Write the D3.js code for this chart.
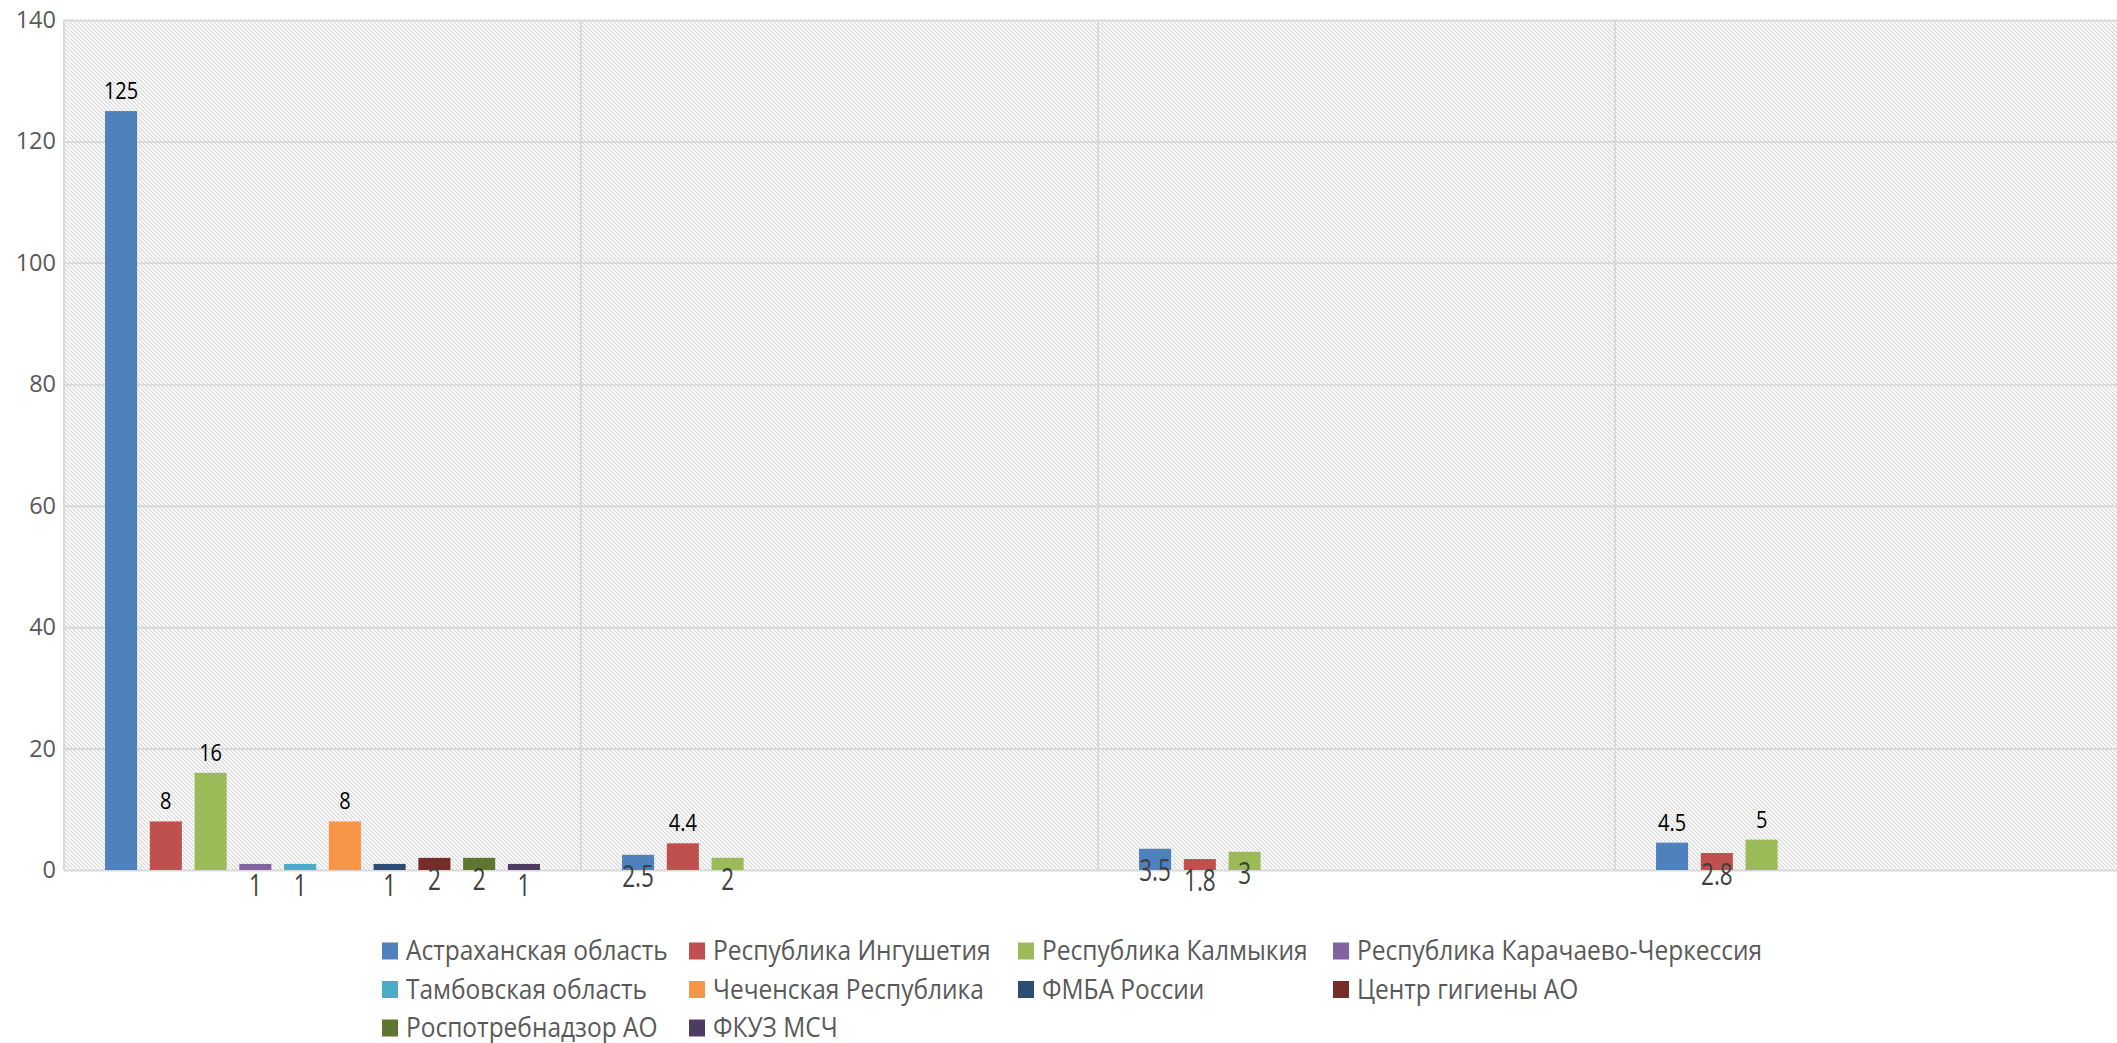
<!DOCTYPE html>
<html>
<head>
<meta charset="utf-8">
<script src="https://cdn.jsdelivr.net/npm/d3@7"></script>
<style>
  html, body { margin: 0; padding: 0; background: #fff; }
  svg { display: block; }
  text { font-family: "Open Sans", "DejaVu Sans", sans-serif; }
</style>
</head>
<body>
<svg id="chart" width="2117" height="1043"></svg>
<script>
// ---------------- DATA ----------------
const categories = ["Группа 1", "Группа 2", "Группа 3", "Группа 4"];
const seriesNames = [
  "Астраханская область", "Республика Ингушетия", "Республика Калмыкия",
  "Республика Карачаево-Черкессия", "Тамбовская область", "Чеченская Республика",
  "ФМБА России", "Центр гигиены АО", "Роспотребнадзор АО", "ФКУЗ МСЧ"
];
const astrakhan   = [125, 2.5, 3.5, 4.5];
const ingushetia  = [8, 4.4, 1.8, 2.8];
const kalmykia    = [16, 2, 3, 5];
const kchr        = [1, null, null, null];
const tambov      = [1, null, null, null];
const chechnya    = [8, null, null, null];
const fmba        = [1, null, null, null];
const hygiene     = [2, null, null, null];
const rospotreb   = [2, null, null, null];
const fkuz        = [1, null, null, null];
const seriesValues = [astrakhan, ingushetia, kalmykia, kchr, tambov, chechnya, fmba, hygiene, rospotreb, fkuz];
// whether each data label sits above the bar (true) or over its top (false)
const labelAbove = [
  [true, false, false, true],
  [true, true, false, false],
  [true, false, false, true],
  [false, false, false, false],
  [false, false, false, false],
  [true, false, false, false],
  [false, false, false, false],
  [false, false, false, false],
  [false, false, false, false],
  [false, false, false, false]
];
const yTicks = [0, 20, 40, 60, 80, 100, 120, 140];

// ---------------- STYLE ----------------
const seriesColors = ["#4F81BD", "#C0504D", "#9BBB59", "#8064A2", "#4BACC6",
                      "#F79646", "#2C4D75", "#772C2A", "#5F7530", "#4D3B62"];

// ---------------- LAYOUT ----------------
const W = 2117, H = 1043;
const plotLeft = 64, plotTop = 20, plotBottom = 870, bandW = 517;
const plotRight = plotLeft + bandW * categories.length;

const svg = d3.select("#chart");

const x0 = d3.scaleBand().domain(categories).range([plotLeft, plotRight]).padding(0);
const x1 = d3.scaleBand().domain(d3.range(seriesNames.length))
  .range([0, x0.bandwidth()]).paddingInner(0.284).paddingOuter(0.917);
const y = d3.scaleLinear().domain([0, 140]).range([plotBottom, plotTop]);

// hatch pattern
const defs = svg.append("defs");
const pat = defs.append("pattern").attr("id", "hatch")
  .attr("patternUnits", "userSpaceOnUse").attr("width", 4).attr("height", 4);
pat.append("rect").attr("width", 4).attr("height", 4).attr("fill", "#ffffff");
pat.append("path").attr("d", "M0,0 L4,4 M-1,3 L1,5 M3,-1 L5,1")
  .attr("stroke", "#d4d4d4").attr("stroke-width", 1.05);

defs.append("clipPath").attr("id", "clipAll")
  .append("rect").attr("x", 0).attr("y", 0).attr("width", W).attr("height", H);

const plot = svg.append("g").attr("clip-path", "url(#clipAll)");

plot.append("rect")
  .attr("x", plotLeft).attr("y", plotTop)
  .attr("width", plotRight - plotLeft).attr("height", plotBottom - plotTop)
  .attr("fill", "url(#hatch)");

// horizontal gridlines (via axis)
const yGrid = d3.axisLeft(y).tickValues(yTicks).tickSize(-(plotRight - plotLeft)).tickFormat("");
const gGrid = plot.append("g").attr("transform", `translate(${plotLeft},0)`).call(yGrid);
gGrid.select(".domain").remove();
gGrid.selectAll("line").attr("stroke", "#d9d9d9").attr("stroke-width", 2);

// vertical gridlines at category boundaries
const vLines = categories.map(c => x0(c)).concat([plotRight]);
plot.append("g").selectAll("line").data(vLines).join("line")
  .attr("x1", d => d).attr("x2", d => d)
  .attr("y1", plotTop).attr("y2", plotBottom)
  .attr("stroke", "#d9d9d9").attr("stroke-width", 2);

// y-axis labels
const yAxis = d3.axisLeft(y).tickValues(yTicks).tickSize(0).tickPadding(8);
const gY = svg.append("g").attr("transform", `translate(${plotLeft},0)`).call(yAxis);
gY.select(".domain").remove();
gY.selectAll("text")
  .attr("font-family", "'Open Sans', sans-serif")
  .attr("font-size", 23.5).attr("fill", "#595959");

// bars
const points = [];
seriesValues.forEach((vals, si) => {
  vals.forEach((v, ci) => {
    if (v !== null && v !== undefined) {
      points.push({ si, ci, v, above: labelAbove[si][ci] });
    }
  });
});

plot.append("g").selectAll("rect").data(points).join("rect")
  .attr("x", d => x0(categories[d.ci]) + x1(d.si))
  .attr("y", d => y(d.v))
  .attr("width", x1.bandwidth())
  .attr("height", d => y(0) - y(d.v))
  .attr("fill", d => seriesColors[d.si]);

// data labels
const fmt = d => String(d);
const lbl = plot.append("g");
points.forEach(d => {
  const cx = x0(categories[d.ci]) + x1(d.si) + x1.bandwidth() / 2;
  const top = y(d.v);
  if (d.above) {
    lbl.append("text")
      .attr("transform", `translate(${cx},${top - 12}) scale(1,1.15)`)
      .attr("text-anchor", "middle")
      .attr("font-size", 20).attr("fill", "#000000")
      .text(fmt(d.v));
  } else {
    lbl.append("text")
      .attr("transform", `translate(${cx},${top + 21}) scale(1,1.35)`)
      .attr("text-anchor", "middle").attr("dy", "0.36em")
      .attr("font-size", 22.5).attr("fill", "#404040")
      .text(fmt(d.v));
  }
});

// legend
const legendCols = [382, 689, 1018, 1333];
const legendRows = [951, 989.5, 1028];
const lg = svg.append("g");
seriesNames.forEach((name, i) => {
  const col = i % 4, row = Math.floor(i / 4);
  const lx = legendCols[col], ly = legendRows[row];
  lg.append("rect").attr("x", lx).attr("y", ly - 8.5).attr("width", 16).attr("height", 17)
    .attr("fill", seriesColors[i]);
  lg.append("text")
    .attr("transform", `translate(${lx + 24},${ly + 9}) scale(1,1.08)`)
    .attr("font-size", 24.5).attr("fill", "#595959")
    .text(name);
});
</script>
</body>
</html>
